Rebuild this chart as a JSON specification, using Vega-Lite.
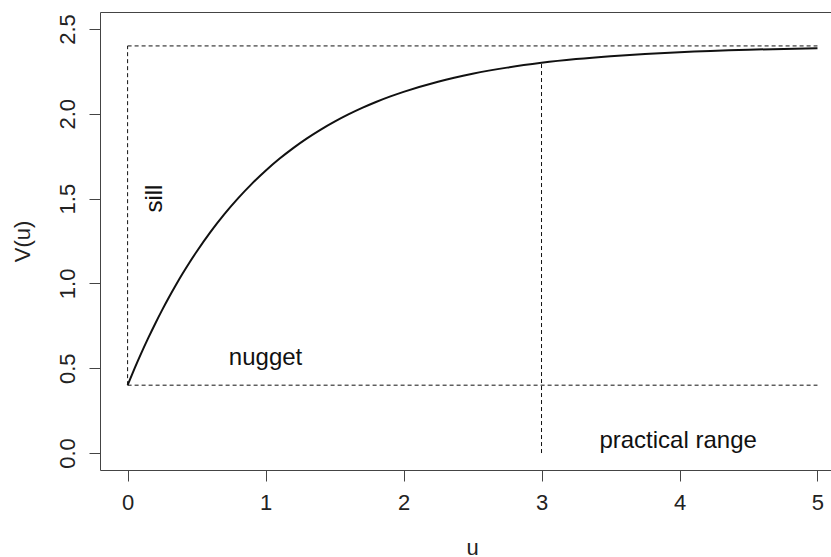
{
  "$schema": "https://vega.github.io/schema/vega-lite/v6.json",
  "width": 731,
  "height": 458,
  "autosize": "none",
  "padding": {"left": 100, "top": 12, "right": 0, "bottom": 87},
  "background": "white",
  "config": {
    "view": {"stroke": "#444", "strokeWidth": 1},
    "font": "Liberation Sans",
    "axis": {
      "grid": false,
      "domain": false,
      "tickColor": "#444",
      "tickSize": 11,
      "labelFontSize": 22,
      "labelColor": "#222",
      "titleFontSize": 22,
      "titleFontWeight": "normal",
      "titleColor": "#222",
      "labelFont": "Liberation Sans",
      "titleFont": "Liberation Sans"
    }
  },
  "datasets": {
    "curve": [
      {"u": 0, "v": 0.4},
      {"u": 0.05, "v": 0.4975},
      {"u": 0.1, "v": 0.5903},
      {"u": 0.15, "v": 0.6786},
      {"u": 0.2, "v": 0.7625},
      {"u": 0.25, "v": 0.8424},
      {"u": 0.3, "v": 0.9184},
      {"u": 0.35, "v": 0.9906},
      {"u": 0.4, "v": 1.0594},
      {"u": 0.45, "v": 1.1247},
      {"u": 0.5, "v": 1.1869},
      {"u": 0.6, "v": 1.3024},
      {"u": 0.7, "v": 1.4068},
      {"u": 0.8, "v": 1.5013},
      {"u": 0.9, "v": 1.5869},
      {"u": 1.0, "v": 1.6642},
      {"u": 1.1, "v": 1.7343},
      {"u": 1.2, "v": 1.7976},
      {"u": 1.3, "v": 1.8549},
      {"u": 1.4, "v": 1.9068},
      {"u": 1.5, "v": 1.9537},
      {"u": 1.6, "v": 1.9962},
      {"u": 1.7, "v": 2.0346},
      {"u": 1.8, "v": 2.0694},
      {"u": 1.9, "v": 2.1009},
      {"u": 2.0, "v": 2.1293},
      {"u": 2.25, "v": 2.1892},
      {"u": 2.5, "v": 2.2358},
      {"u": 2.75, "v": 2.2721},
      {"u": 3.0, "v": 2.3004},
      {"u": 3.25, "v": 2.3224},
      {"u": 3.5, "v": 2.3396},
      {"u": 3.75, "v": 2.3530},
      {"u": 4.0, "v": 2.3634},
      {"u": 4.5, "v": 2.3778},
      {"u": 5.0, "v": 2.3865}
    ],
    "segments": [
      {"x1": 0, "y1": 2.4, "x2": 5, "y2": 2.4},
      {"x1": 0, "y1": 0.4, "x2": 0, "y2": 2.4},
      {"x1": 0, "y1": 0.4, "x2": 5, "y2": 0.4},
      {"x1": 3, "y1": 0, "x2": 3, "y2": 2.3}
    ],
    "labels": [
      {"u": 1.0, "v": 0.56, "label": "nugget"},
      {"u": 3.99, "v": 0.07, "label": "practical range"}
    ],
    "vlabels": [
      {"u": 0.2, "v": 1.5, "label": "sill"}
    ]
  },
  "layer": [
    {
      "data": {"name": "segments"},
      "mark": {"type": "rule", "strokeDash": [4, 3], "strokeWidth": 1, "color": "#111"},
      "encoding": {
        "x": {"field": "x1", "type": "quantitative", "scale": {"domain": [-0.2, 5.098], "nice": false, "zero": false},
              "axis": {"values": [0, 1, 2, 3, 4, 5], "format": "d", "title": "u", "labelPadding": 11, "titleX": 372, "titleY": 84, "titleBaseline": "alphabetic"}},
        "x2": {"field": "x2"},
        "y": {"field": "y1", "type": "quantitative", "scale": {"domain": [-0.1, 2.6], "nice": false, "zero": false},
              "axis": {"values": [0, 0.5, 1, 1.5, 2, 2.5], "format": ".1f", "title": "V(u)", "labelAngle": -90, "labelAlign": "center", "labelBaseline": "bottom", "labelPadding": 10, "titleX": -78, "titleY": 229, "titleAngle": -90, "titleAlign": "center", "titleBaseline": "middle"}},
        "y2": {"field": "y2"}
      }
    },
    {
      "data": {"name": "curve"},
      "mark": {"type": "line", "interpolate": "monotone", "strokeWidth": 2, "color": "#111"},
      "encoding": {
        "x": {"field": "u", "type": "quantitative"},
        "y": {"field": "v", "type": "quantitative"}
      }
    },
    {
      "data": {"name": "labels"},
      "mark": {"type": "text", "fontSize": 24, "font": "Liberation Sans", "color": "#111", "align": "center", "baseline": "middle"},
      "encoding": {
        "x": {"field": "u", "type": "quantitative"},
        "y": {"field": "v", "type": "quantitative"},
        "text": {"field": "label"}
      }
    },
    {
      "data": {"name": "vlabels"},
      "mark": {"type": "text", "fontSize": 24, "font": "Liberation Sans", "color": "#111", "align": "center", "baseline": "middle", "angle": 270},
      "encoding": {
        "x": {"field": "u", "type": "quantitative"},
        "y": {"field": "v", "type": "quantitative"},
        "text": {"field": "label"}
      }
    }
  ]
}
